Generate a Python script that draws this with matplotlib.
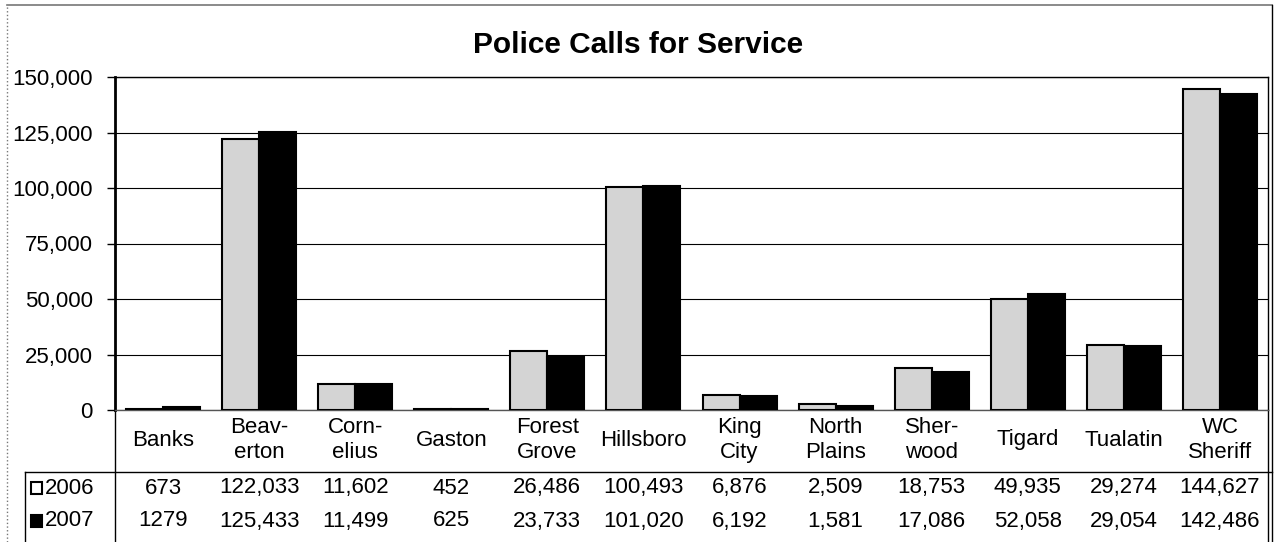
import numpy as np
import matplotlib.pyplot as plt
from matplotlib.lines import Line2D
from matplotlib.patches import Rectangle

plt.rcParams['font.family'] = ['Liberation Sans', 'DejaVu Sans']

cities = ['Banks', 'Beav-\nerton', 'Corn-\nelius', 'Gaston', 'Forest\nGrove', 'Hillsboro',
          'King\nCity', 'North\nPlains', 'Sher-\nwood', 'Tigard', 'Tualatin', 'WC\nSheriff']
calls_2006 = [673, 122033, 11602, 452, 26486, 100493, 6876, 2509, 18753, 49935, 29274, 144627]
calls_2007 = [1279, 125433, 11499, 625, 23733, 101020, 6192, 1581, 17086, 52058, 29054, 142486]
years = ['2006', '2007']

txt_2006 = [f"{v:,}" for v in calls_2006]
txt_2007 = [f"{v:,}" for v in calls_2007]
txt_2007[0] = '1279'  # printed without separator in the source

FS = 16

fig = plt.figure(figsize=(12.8, 5.42), dpi=100)
ax = fig.add_axes([115/1280, 132/542, 1153/1280, 333/542])

x = np.arange(len(cities))
w = 0.385
ax.bar(x - w/2, calls_2006, w, color='#d4d4d4', edgecolor='black', linewidth=1.5, zorder=3)
ax.bar(x + w/2, calls_2007, w, color='black', edgecolor='black', linewidth=1.5, zorder=3)

ax.set_xlim(-0.5, len(cities) - 0.5)
ax.set_ylim(0, 150000)
ax.set_yticks(np.arange(0, 150001, 25000))
ax.set_yticklabels([f"{v:,}" for v in range(0, 150001, 25000)], fontsize=FS)
ax.tick_params(axis='y', length=6, pad=10, width=1)
ax.set_xticks([])
ax.grid(axis='y', color='black', linewidth=0.8, zorder=0)
ax.spines['left'].set_linewidth(2)
ax.spines['top'].set_linewidth(1)
ax.spines['right'].set_linewidth(1)
ax.spines['bottom'].set_linewidth(1)
ax.spines['bottom'].set_color('#555555')

fig.text(638/1280, 1 - 45/542, 'Police Calls for Service', ha='center', va='center',
         fontsize=21.5, fontweight='bold')

# data table under the axis
def ypx(p):
    return (410 - p) / 333

def xpx(p):
    return (p - 115) / 1153

tr = ax.get_xaxis_transform()
for i, name in enumerate(cities):
    ax.text(x[i], ypx(440), name, transform=tr, ha='center', va='center',
            fontsize=FS, linespacing=1.2)
    ax.text(x[i], ypx(488), txt_2006[i], transform=tr, ha='center', va='center', fontsize=FS)
    ax.text(x[i], ypx(521), txt_2007[i], transform=tr, ha='center', va='center', fontsize=FS)

ta = ax.transAxes
lines = [
    ([xpx(25), xpx(1272)], [ypx(472), ypx(472)]),
    ([0, 0], [0, ypx(542)]),
    ([xpx(25), xpx(25)], [ypx(472), ypx(542)]),
    ([1, 1], [0, ypx(542)]),
]
for lx, ly in lines:
    ax.add_line(Line2D(lx, ly, transform=ta, color='black', linewidth=1, clip_on=False))

# legend keys in table
for yy, label, fc in [(488, years[0], 'white'), (521, years[1], 'black')]:
    ax.add_patch(Rectangle((xpx(31), ypx(yy + 6)), 11/1153, 12/333, transform=ta,
                           facecolor=fc, edgecolor='black', linewidth=1.5, clip_on=False))
    ax.text(xpx(45), ypx(yy), label, transform=ta, ha='left', va='center', fontsize=FS)

# outer frame
fig.add_artist(Line2D([7/1280, 7/1280], [0, 1 - 5/542], transform=fig.transFigure,
                      color='#777777', linewidth=1, linestyle=':'))
fig.add_artist(Line2D([7/1280, 1272/1280], [1 - 5/542, 1 - 5/542], transform=fig.transFigure,
                      color='#777777', linewidth=1.2))
fig.add_artist(Line2D([1272/1280, 1272/1280], [0, 1 - 5/542], transform=fig.transFigure,
                      color='black', linewidth=1))

fig.savefig('out.png', dpi=100)
